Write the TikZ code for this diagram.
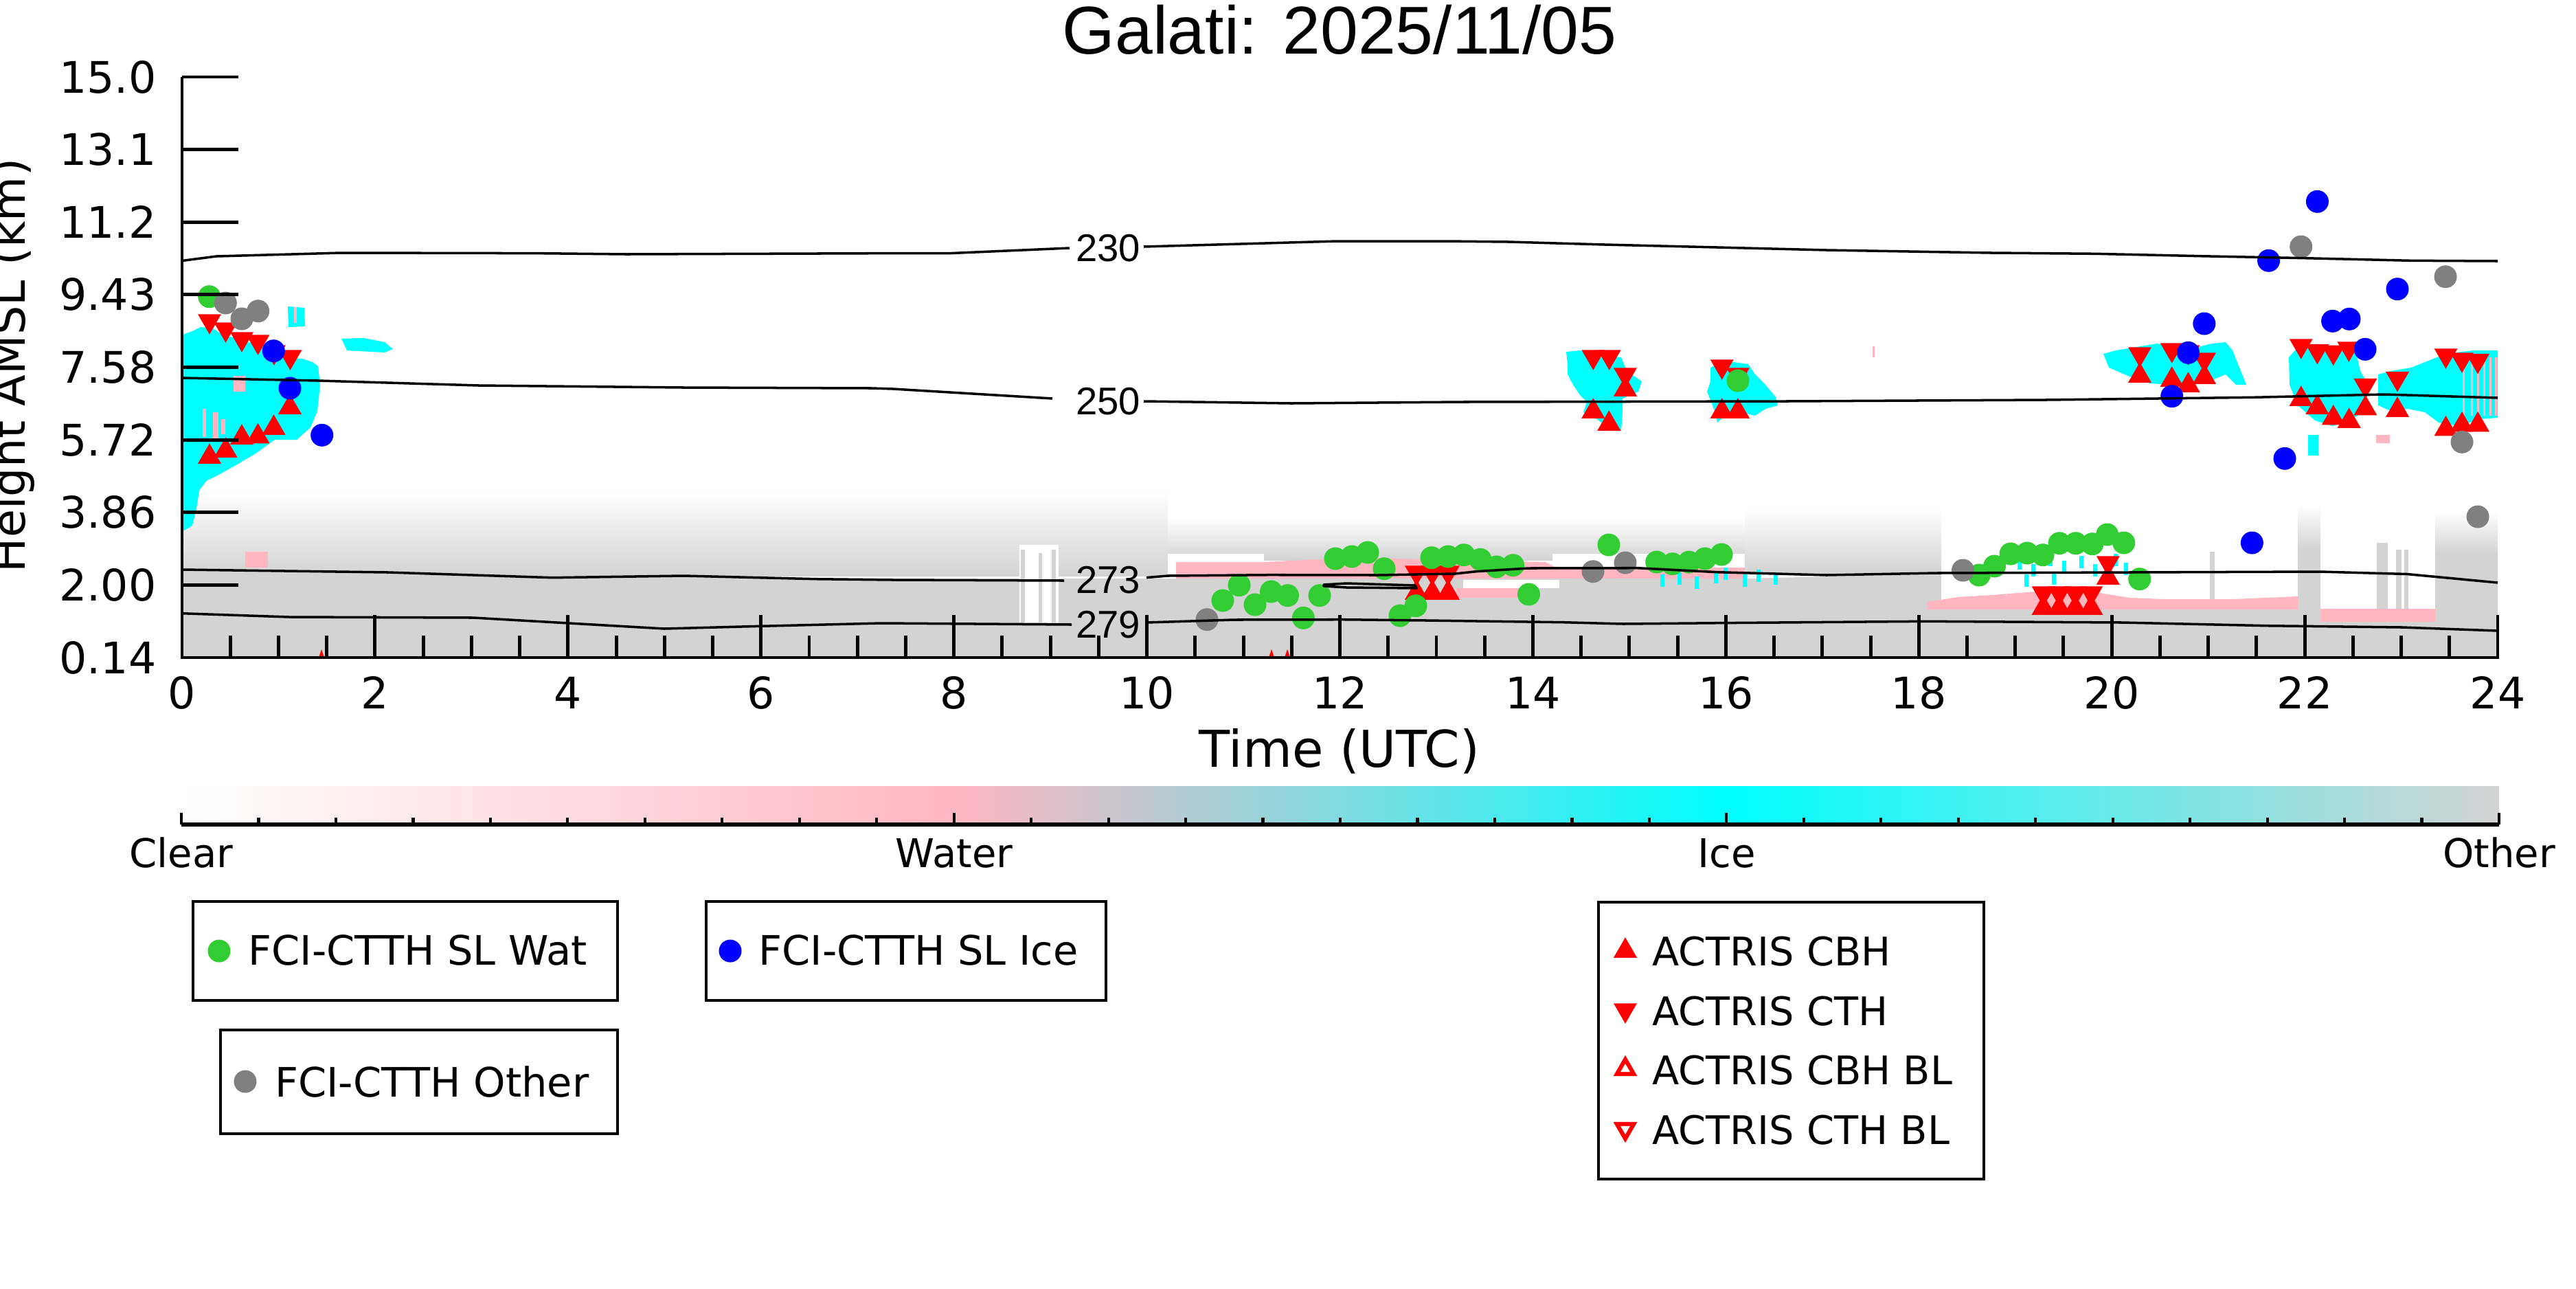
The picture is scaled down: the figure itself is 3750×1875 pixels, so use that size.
\documentclass[tikz,border=0pt]{standalone}
\usepackage{fontspec}
\setmainfont{DejaVu Sans}
\newfontfamily\libsans{Liberation Sans}
\definecolor{lgray}{HTML}{D3D3D3}
\definecolor{lpink}{HTML}{FFB6C1}
\definecolor{mcyan}{HTML}{00FFFF}
\definecolor{mgreen}{HTML}{32CD32}
\definecolor{mblue}{HTML}{0000FF}
\definecolor{mgray}{HTML}{808080}
\definecolor{mred}{HTML}{FF0000}
\newcommand\MkDn[2]{\fill[mred] (#1-17,#2-14.75) -- (#1+17,#2-14.75) -- (#1,#2+14.75) -- cycle;}
\newcommand\MkUp[2]{\fill[mred] (#1-17,#2+14.75) -- (#1+17,#2+14.75) -- (#1,#2-14.75) -- cycle;}
\begin{document}
\begin{tikzpicture}[x=0.01cm,y=-0.01cm,
  cline/.style={black,line width=1pt,line join=round},
  clab/.style={font=\libsans\fontsize{16}{19}\selectfont,inner sep=0pt},
  tlab/.style={font=\fontsize{18}{21}\selectfont,inner sep=0pt},
  cblab/.style={font=\fontsize{16.4}{19}\selectfont,inner sep=0pt,anchor=base},
  lbox/.style={draw=black,line width=1.3pt},
  ltext/.style={font=\fontsize{16.8}{20}\selectfont,inner sep=0pt,anchor=base west},
  atext/.style={font=\fontsize{16.3}{19}\selectfont,inner sep=0pt,anchor=base west},
  tick/.style={line width=1.4pt}]
\fill[white] (0,0) rectangle (3750,1875);
\useasboundingbox (0,0) rectangle (3750,1875);

% ---------------- data background ----------------
\begin{scope}
\clip (265,112) rectangle (3636,957);
% speckled low cloud (other)
\shade[top color=white,bottom color=lgray] (265,715) rectangle (1700,838);
\shade[top color=white,bottom color=lgray] (1700,755) rectangle (2540,815);
\shade[top color=white,bottom color=lgray] (2540,740) rectangle (2826,834);
\shade[top color=white,bottom color=lgray] (3545,745) rectangle (3636,806);
\shade[top color=white,bottom color=lgray] (3345,735) rectangle (3378,800);
% solid other
\fill[lgray] (265,957) -- (265,830) -- (565,833) -- (804,838) -- (1300,842) -- (1700,842)
  -- (2540,842) -- (2826,835) -- (2826,887) -- (3345,887) -- (3345,800) -- (3378,800)
  -- (3378,905) -- (3545,905) -- (3545,805) -- (3636,805) -- (3636,957) -- cycle;
\fill[lgray] (3460,790) rectangle (3476,905);
\fill[lgray] (3488,800) rectangle (3496,905);
\fill[lgray] (3500,800) rectangle (3506,905);
\fill[lgray] (3217,803) rectangle (3224,887);
% white gaps
\fill[white] (1484,793) rectangle (1541,906);
\fill[lgray] (1486,800) rectangle (1492,906);
\fill[lgray] (1512,805) rectangle (1517,906);
\fill[lgray] (1531,800) rectangle (1537,906);
\fill[white] (1700,806) rectangle (1840,818);
\fill[white] (2260,806) rectangle (2540,826);
\fill[white] (2130,844) rectangle (2270,856);
% water
\fill[lpink] (1712,818) -- (1840,818) -- (1900,815) -- (2000,812) -- (2100,815) -- (2250,818)
  -- (2265,826) -- (2540,826) -- (2540,842) -- (1712,842) -- cycle;
\fill[lpink] (2120,856) rectangle (2215,870);
\fill[lpink] (2805,876) -- (2850,869) -- (2900,866) -- (2950,862) -- (3000,858) -- (3050,862)
  -- (3100,870) -- (3150,872) -- (3250,872) -- (3345,868) -- (3345,887) -- (2805,887) -- cycle;
\fill[lpink] (3378,886) rectangle (3545,905);
\fill[lpink] (357,803) rectangle (390,826);
% ice, early morning
\fill[mcyan] (266,487) -- (280,482) -- (292,476) -- (310,478) -- (325,488) -- (345,492) -- (360,498)
  -- (380,500) -- (395,505) -- (410,512) -- (418,522) -- (440,522) -- (455,527) -- (463,533)
  -- (466,560) -- (462,598) -- (452,622) -- (432,640) -- (400,640) -- (372,660) -- (345,676)
  -- (320,690) -- (300,700) -- (290,714) -- (286,740) -- (280,765) -- (268,772) -- (266,772) -- cycle;
\fill[mcyan] (419,446) -- (443,448) -- (444,475) -- (420,476) -- cycle;
\fill[mcyan] (497,493) -- (530,492) -- (560,498) -- (572,508) -- (560,513) -- (505,510) -- cycle;
\fill[lpink] (340,547) rectangle (357,570);
\fill[lpink] (295,595) rectangle (300,636);
\fill[lpink] (310,600) rectangle (318,640);
\fill[lpink] (322,610) rectangle (328,632);
\fill[lpink] (428,447) rectangle (432,470);
% ice, afternoon
\fill[mcyan] (2280,512) -- (2300,510) -- (2320,516) -- (2360,520) -- (2368,540) -- (2390,555)
  -- (2385,570) -- (2362,580) -- (2362,600) -- (2360,627) -- (2345,627) -- (2325,610) -- (2305,600)
  -- (2310,585) -- (2300,575) -- (2290,560) -- (2282,545) -- (2282,530) -- cycle;
\fill[mcyan] (2490,535) -- (2510,525) -- (2545,530) -- (2555,545) -- (2570,560) -- (2585,578)
  -- (2588,590) -- (2570,595) -- (2555,605) -- (2535,600) -- (2515,600) -- (2500,615)
  -- (2495,595) -- (2485,570) -- (2490,555) -- cycle;
\foreach \cx/\cy in {2498/840,2512/835,2540/845,2560/838,2585/842,2420/845,2445/842,2470/848,
  2940/820,2960/830,2985/815,3005/825,3030/818,3050/830,3080/815,3095/828,2950/845,2990/842}
  {\fill[mcyan] (\cx-3,\cy-9) rectangle (\cx+3,\cy+9);}
% ice, evening
\fill[mcyan] (3062,515) -- (3080,510) -- (3110,505) -- (3140,500) -- (3170,505) -- (3200,505)
  -- (3220,500) -- (3240,498) -- (3250,510) -- (3262,540) -- (3270,560) -- (3255,560) -- (3240,545)
  -- (3215,555) -- (3190,560) -- (3160,560) -- (3130,558) -- (3100,548) -- (3070,535) -- cycle;
\fill[mcyan] (3332,520) -- (3345,505) -- (3400,505) -- (3430,515) -- (3436,540) -- (3447,560)
  -- (3440,600) -- (3420,612) -- (3395,620) -- (3370,612) -- (3345,590) -- (3333,560) -- cycle;
\fill[mcyan] (3462,545) -- (3480,540) -- (3510,535) -- (3535,525) -- (3560,515) -- (3600,510)
  -- (3636,510) -- (3636,608) -- (3610,610) -- (3580,620) -- (3550,615) -- (3530,600)
  -- (3505,595) -- (3480,598) -- (3462,590) -- cycle;
\foreach \px in {3585,3597,3606,3615,3624,3632}
  {\fill[lpink] (\px,520) rectangle (\px+3,605);}
\fill[mcyan] (3360,633) rectangle (3375,663);
\fill[lpink] (3459,633) rectangle (3479,645);
\fill[lpink] (2726,504) rectangle (2729,520);
% tiny markers at ground
\foreach \gx in {468,1851,1874}
  {\fill[mred] (\gx-4,957) -- (\gx+4,957) -- (\gx,945) -- cycle;}

% ---------------- markers ----------------
\foreach \a/\b in {305/660,328.5/651,352/632,375.5/630.5,398.5/618,422/588,
  2366/562,2319.3/594,2342.3/612,2506.7/594,2530/594,
  2062/858,2085/858,2108/858,2974.6/880,2997.8/880,3021/880,3044.2/880,3068.8/836,
  3115/542,3161.7/548,3185.5/556,3209/544,
  3349.7/576,3373.4/588,3396.7/603.7,3419.7/608,3443.4/589.7,3490/592,
  3560.5/619.7,3584/613.7,3607/613.7}{\MkUp{\a}{\b}}
\foreach \a/\b in {305/472,328.5/484,352/498,375.5/502,399/517,422.5/524,
  2319.3/524,2342.7/524,2366/550,2506.7/538,2530/550,
  2062/838,2085/838,2108/838,2974.6/868,2997.8/868,3021/868,3044.2/868,3068.8/824,
  3115/520,3161.7/514,3185.5/517,3209/528,
  3349.7/508,3373.4/515.7,3396.7/517.3,3419.3/512,3443.4/565.7,3490/555.7,
  3560.5/522,3584/528,3607/529.7}{\MkDn{\a}{\b}}
\foreach \a/\b in {304.7/431.7,
  1780/874,1804/851.7,1827/880,1850.5/861,1874.5/866.7,1897.4/899.3,1921/866.7,1944/813,
  1968/810,1991/804,2015/827.7,2038/896,2061/881.7,2084/811.7,2108/810,2131/807.7,
  2155/814.3,2178.6/825,2202.6/822.7,2225.5/865,
  2342/793,2411.7/818,2434.7/820.7,2458.7/818,2482/813,2506/807,2530/554,
  2881/837,2903.5/824,2927/806,2951/805,2974/807.7,2998/790.7,3021.7/790.7,3045.8/791.7,
  3067.6/778,3091.7/790,3114.7/842.7}{\fill[mgreen] (\a,\b) circle[radius=0.165cm];}
\foreach \a/\b in {398.3/510.7,422/565,468.7/633.3,3373.4/293.3,3302.6/379.3,3490/420.7,
  3208.8/471,3395.6/467.3,3420/464.3,3443/508.3,3185.5/513.3,3161.7/576.7,3326/667.3,3278.3/790}
  {\fill[mblue] (\a,\b) circle[radius=0.165cm];}
\foreach \a/\b in {328.3/441,352/464,375.7/452.7,1757/901.7,2319/831.7,2366/819,2857.5/830,
  3349.7/359,3560/402.7,3584/643.3,3607/752}
  {\fill[mgray] (\a,\b) circle[radius=0.165cm];}

% ---------------- temperature contours ----------------
\draw[cline] (265,379.5) -- (315,373) -- (497,368) -- (779,368.6) -- (912,370) -- (1300,368.6)
  -- (1383,368.6) -- (1557,361);
\draw[cline] (1665,359) -- (1947,351) -- (2104,351) -- (2196,352) -- (2336,356) -- (2500,360)
  -- (2659,364) -- (2899,368) -- (3050,369.3) -- (3203,372.7) -- (3356,375.7) -- (3509,379.3) -- (3636,380);
\draw[cline] (265,550) -- (463,554) -- (697,561) -- (995,564) -- (1269,565) -- (1300,566) -- (1532,580);
\draw[cline] (1665,584) -- (1880,587) -- (2129,585) -- (2600,584) -- (2978,582) -- (3280,578.3)
  -- (3471,574) -- (3636,579);
\draw[cline] (265,829) -- (565,833) -- (804,840.7) -- (995,838) -- (1187,842.7) -- (1300,844) -- (1549,845);
\draw[cline] (1669,840.6) -- (1700,838) -- (1848,836.7) -- (2006,837) -- (2118,835) -- (2149,831.7)
  -- (2225,827) -- (2384,826.7) -- (2500,832.7) -- (2659,837) -- (2819,834) -- (3377,832)
  -- (3504,835.5) -- (3636,848);
\draw[cline] (1927,851) -- (1960,849) -- (2060,852) -- (2062,856) -- (1960,855) -- (1927,853) -- cycle;
\draw[cline] (265,892.7) -- (421,898) -- (689,899) -- (823,906.7) -- (967,915) -- (1091,911.7)
  -- (1283,907) -- (1560,909);
\draw[cline] (1669,906) -- (1797,902) -- (1955,901.7) -- (2077,903) -- (2276,905.7) -- (2363,908)
  -- (2500,906.7) -- (2802,904.3) -- (3089,906) -- (3300,910.7) -- (3497,913) -- (3636,918);
\end{scope}
\node[clab] (c230) at (1613,361) {230};
\node[clab] (c250) at (1613,584) {250};
\node[clab] (c273) at (1613,844) {273};
\node[clab] (c279) at (1613,909) {279};

% ---------------- axes ----------------
\foreach \i in {1,...,47} {\draw[tick] (265+70.229*\i,957) -- ++(0,-32);}
\foreach \h in {0,2,...,24} {
  \draw[tick] (265+140.458*\h,957) -- ++(0,-62);
  \node[tlab,anchor=base] (xt\h) at (265+140.458*\h,1031) {\h};}
\foreach \k/\lab in {0/15.0,1/13.1,2/11.2,3/9.43,4/7.58,5/5.72,6/3.86,7/2.00,8/0.14} {
  \draw[tick] (265,112+105.625*\k) -- ++(82,0);
  \node[tlab,anchor=base east] (yt\k) at (228,135+105.625*\k) {\lab};}
\draw[line width=1.3pt] (265,112) -- (265,957) -- (3638,957);

\node[font=\libsans\fontsize{28}{32}\selectfont,inner sep=0pt,anchor=base] (title) at (1950,78) {Galati: 2025/11/05};
\node[font=\fontsize{21}{24}\selectfont,inner sep=0pt,anchor=base] (xlab) at (1950,1116) {Time (UTC)};
\node[font=\fontsize{19}{22}\selectfont,inner sep=0pt,anchor=base,rotate=90] (ylab) at (36,532) {Height AMSL (km)};

% ---------------- colour bar ----------------
\shade[left color=white,right color=lpink] (264,1144) rectangle (1389.5,1197);
\shade[left color=lpink,right color=mcyan] (1389,1144) rectangle (2514.5,1197);
\shade[left color=mcyan,right color=lgray] (2514,1144) rectangle (3638,1197);
\foreach \i in {0,...,30} {\draw[line width=1.2pt] (264+112.467*\i,1199.5) -- ++(0,-9.5);}
\foreach \i in {0,1,2,3} {\draw[line width=1.2pt] (264+1124.67*\i,1199.5) -- ++(0,-16.5);}
\draw[line width=1.7pt] (264,1199.5) -- (3638,1199.5);
\node[cblab] (cbclear) at (264,1262) {Clear};
\node[cblab] (cbwater) at (1389,1262) {Water};
\node[cblab] (cbice) at (2514,1262) {Ice};
\node[cblab] (cbother) at (3638,1262) {Other};

% ---------------- legends ----------------
\draw[lbox] (281,1312) rectangle (899,1456);
\fill[mgreen] (319,1384) circle[radius=0.165cm];
\node[ltext] (lgwat) at (361,1404.6) {FCI-CTTH SL Wat};
\draw[lbox] (1028,1312) rectangle (1610,1456);
\fill[mblue] (1063,1384) circle[radius=0.165cm];
\node[ltext] (lgice) at (1104,1404.6) {FCI-CTTH SL Ice};
\draw[lbox] (321,1499) rectangle (899,1650);
\fill[mgray] (357,1574) circle[radius=0.165cm];
\node[ltext] (lgoth) at (399.5,1596) {FCI-CTTH Other};
\draw[lbox] (2327,1313) rectangle (2888,1716);
\MkUp{2366}{1379}
\MkDn{2366}{1475}
\fill[mred] (2348.5,1566.2) -- (2383.5,1566.2) -- (2366,1535.9) -- cycle;
\fill[white] (2359,1560.2) -- (2373,1560.2) -- (2366,1548.1) -- cycle;
\fill[mred] (2348.5,1632.8) -- (2383.5,1632.8) -- (2366,1663.1) -- cycle;
\fill[white] (2359,1638.8) -- (2373,1638.8) -- (2366,1650.9) -- cycle;
\node[atext] (lacbh) at (2405,1405.6) {ACTRIS CBH};
\node[atext] (lacth) at (2405,1492) {ACTRIS CTH};
\node[atext] (lacbhbl) at (2405,1578) {ACTRIS CBH BL};
\node[atext] (lacthbl) at (2405,1665) {ACTRIS CTH BL};
\end{tikzpicture}
\end{document}
